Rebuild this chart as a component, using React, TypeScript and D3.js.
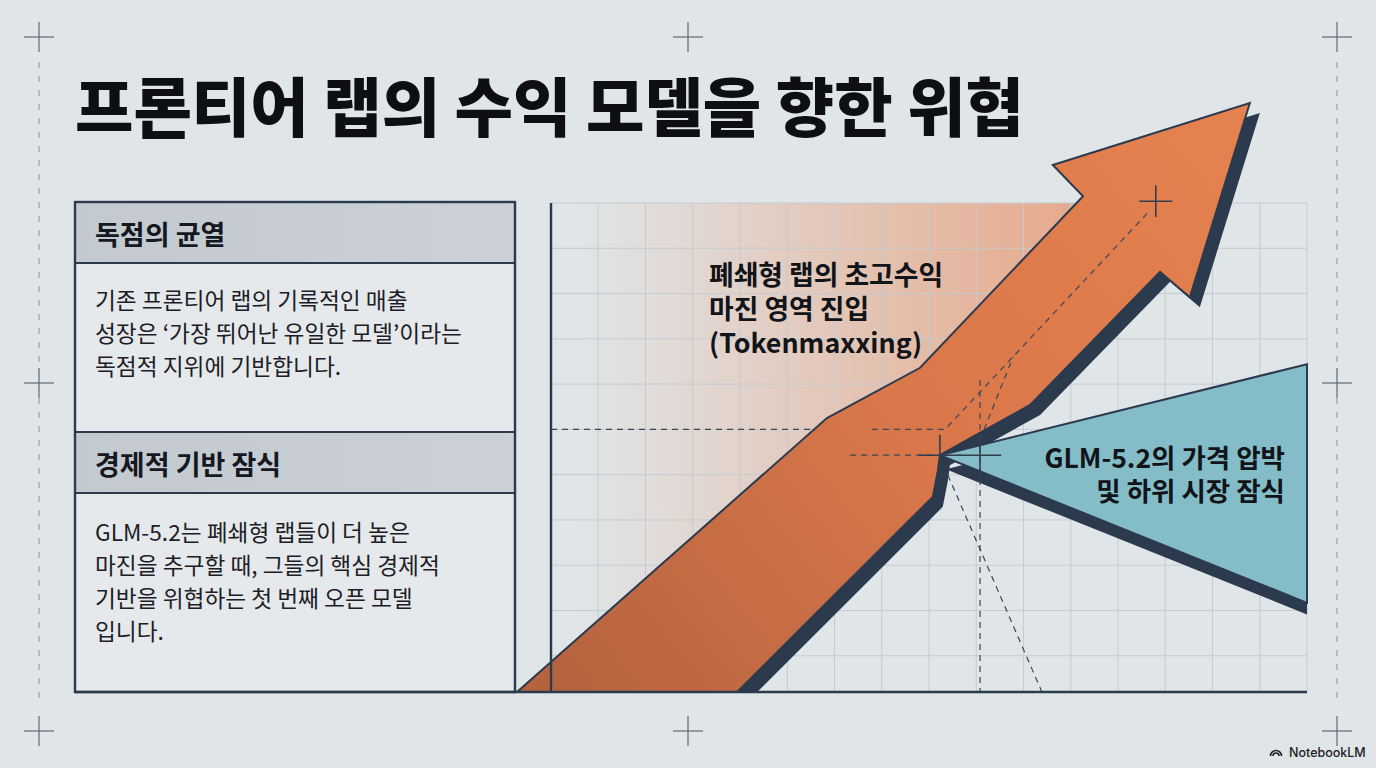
import { useEffect, useRef } from 'react';
import * as d3 from 'd3';

// ---- content ----
const titleText = '프론티어 랩의 수익 모델을 향한 위협';

const panelHeads = ['독점의 균열', '경제적 기반 잠식'];
const panel1Lines = [
  '기존 프론티어 랩의 기록적인 매출',
  '성장은 ‘가장 뛰어난 유일한 모델’이라는',
  '독점적 지위에 기반합니다.',
];
const panel2Lines = [
  'GLM-5.2는 폐쇄형 랩들이 더 높은',
  '마진을 추구할 때, 그들의 핵심 경제적',
  '기반을 위협하는 첫 번째 오픈 모델',
  '입니다.',
];
const arrowLabel = ['폐쇄형 랩의 초고수익', '마진 영역 진입', '(Tokenmaxxing)'];
const wedgeLabel = ['GLM-5.2의 가격 압박', '및 하위 시장 잠식'];

// ---- chart geometry in grid units (x: columns, y: rows above the base line) ----
const gridCols = d3.range(0, 17);
const gridRows = d3.range(0, 11).map(k => 0.8 + k);

// the big rising arrow (clockwise from the base)
const arrowPts: [number, number][] = [
  [-0.72, 0], [5.84, 6.05], [7.81, 7.16], [11.26, 10.95], [10.62, 11.64],
  [14.79, 13.01], [13.52, 8.72], [12.89, 9.28], [10.14, 6.34], [8.23, 5.23],
  [8.19, 4.9], [8.08, 4.31], [3.94, 0],
];
// teal wedge branching off the arrow
const wedgePts: [number, number][] = [[8.23, 5.23], [16, 7.24], [16, 1.97]];

// dashed guide lines
const guidesBack: [number, number][][] = [
  [[0, 5.8], [5.9, 5.8]],
];
const guidesFront: [number, number][][] = [
  [[6.79, 5.8], [8.34, 5.8], [12.68, 10.64]],
  [[6.33, 5.23], [8.23, 5.23]],
  [[9.08, 6.89], [9.08, 0]],
  [[9.08, 5.57], [9.78, 7.4]],
  [[8.4, 4.79], [10.39, 0]],
];
const crossPts: [number, number, number][] = [
  [8.23, 5.23, 0.45], [9.08, 5.23, 0.45], [12.8, 10.84, 0.35],
];

// page frame marks (pixels)
const pageCross: [number, number][] = [
  [39, 37], [688, 37], [1337, 37], [39, 383], [1337, 383], [39, 731], [688, 731], [1337, 731],
];

const FONT = '"Noto Sans CJK KR", "Noto Sans", sans-serif';
const NAVY = '#2c3a4e';

export default function App() {
  const ref = useRef<SVGSVGElement>(null);

  useEffect(() => {
    if (!ref.current) return;
    document.body.style.margin = '0';
    const W = 1376, H = 768;
    const svg = d3.select(ref.current);
    svg.selectAll('*').remove();
    svg.attr('width', W).attr('height', H).attr('viewBox', [0, 0, W, H]);

    const x = d3.scaleLinear().domain([0, 16]).range([551, 1307]);
    const y = d3.scaleLinear().domain([0, 10.8]).range([692, 203]);
    const line = d3.line<[number, number]>().x(d => x(d[0])).y(d => y(d[1]));

    const defs = svg.append('defs');
    const peach = defs.append('linearGradient').attr('id', 'peach')
      .attr('gradientUnits', 'userSpaceOnUse')
      .attr('x1', x(0.6)).attr('y1', 0).attr('x2', x(11.2)).attr('y2', 0);
    peach.append('stop').attr('offset', 0).attr('stop-color', '#e8956c').attr('stop-opacity', 0);
    peach.append('stop').attr('offset', 1).attr('stop-color', '#e8956c').attr('stop-opacity', 0.75);

    const orange = defs.append('linearGradient').attr('id', 'orange')
      .attr('gradientUnits', 'userSpaceOnUse')
      .attr('x1', x(-0.7)).attr('y1', y(0)).attr('x2', x(14.8)).attr('y2', y(13));
    orange.append('stop').attr('offset', 0).attr('stop-color', '#b2623e');
    orange.append('stop').attr('offset', 0.5).attr('stop-color', '#d9774a');
    orange.append('stop').attr('offset', 1).attr('stop-color', '#e6824f');

    const hdr = defs.append('linearGradient').attr('id', 'hdr');
    hdr.append('stop').attr('offset', 0).attr('stop-color', '#c2c9cf');
    hdr.append('stop').attr('offset', 1).attr('stop-color', '#cbd1d6');

    defs.append('clipPath').attr('id', 'clipBase')
      .append('rect').attr('x', 0).attr('y', 0).attr('width', W).attr('height', y(0));
    defs.append('clipPath').attr('id', 'clipPlot')
      .append('rect').attr('x', 0).attr('y', 0).attr('width', x(16)).attr('height', y(0));

    // page
    svg.append('rect').attr('width', W).attr('height', H).attr('fill', '#e0e5e7');

    // frame marks
    const marks = svg.append('g').attr('stroke', '#5f6a75').attr('stroke-width', 1.2);
    pageCross.forEach(([cx, cy]) => {
      marks.append('line').attr('x1', cx - 15).attr('x2', cx + 15).attr('y1', cy).attr('y2', cy);
      marks.append('line').attr('x1', cx).attr('x2', cx).attr('y1', cy - 15).attr('y2', cy + 15);
    });
    [39, 1337].forEach(px => {
      marks.append('line').attr('x1', px).attr('x2', px).attr('y1', 62).attr('y2', 706)
        .attr('stroke', '#8a939b').attr('stroke-width', 1).attr('stroke-dasharray', '6,8');
    });

    // title
    svg.append('text').attr('x', 75).attr('y', 131)
      .attr('font-family', FONT).attr('font-weight', 900).attr('font-size', 63.5)
      .attr('fill', '#0d0f12').text(titleText);

    // left panel
    const panel = svg.append('g');
    const sectY = [202, 432];
    panel.append('rect').attr('x', 75).attr('y', 202).attr('width', 440).attr('height', 490)
      .attr('fill', '#e5e9eb');
    sectY.forEach((sy, i) => {
      panel.append('rect').attr('x', 75).attr('y', sy).attr('width', 440).attr('height', 61)
        .attr('fill', 'url(#hdr)');
      panel.append('line').attr('x1', 75).attr('x2', 515).attr('y1', sy + 61).attr('y2', sy + 61)
        .attr('stroke', NAVY).attr('stroke-width', 2.2);
      panel.append('text').attr('x', 95).attr('y', sy + 43)
        .attr('font-family', FONT).attr('font-weight', 700).attr('font-size', 27)
        .attr('fill', '#15191f').text(panelHeads[i]);
    });
    panel.append('line').attr('x1', 75).attr('x2', 515).attr('y1', 432).attr('y2', 432)
      .attr('stroke', NAVY).attr('stroke-width', 2.2);
    panel.append('rect').attr('x', 75).attr('y', 202).attr('width', 440).attr('height', 490)
      .attr('fill', 'none').attr('stroke', NAVY).attr('stroke-width', 2.4);
    [[panel1Lines, 309], [panel2Lines, 541]].forEach(([lines, y0]) => {
      (lines as string[]).forEach((t, i) => {
        panel.append('text').attr('x', 95).attr('y', (y0 as number) + i * 33)
          .attr('font-family', FONT).attr('font-weight', 400).attr('font-size', 22.7)
          .attr('fill', '#1c2026').text(t);
      });
    });

    // peach zone left of the arrow (bounded by the arrow's left edge)
    const t0 = (0 - arrowPts[0][0]) / (arrowPts[1][0] - arrowPts[0][0]);
    const topT = (10.8 - arrowPts[2][1]) / (arrowPts[3][1] - arrowPts[2][1]);
    const zone: [number, number][] = [
      [0, 10.8],
      [arrowPts[2][0] + topT * (arrowPts[3][0] - arrowPts[2][0]), 10.8],
      arrowPts[2], arrowPts[1],
      [0, arrowPts[0][1] + t0 * (arrowPts[1][1] - arrowPts[0][1])],
    ];
    svg.append('path').attr('d', line(zone) + 'Z').attr('fill', 'url(#peach)');

    // grid
    const grid = svg.append('g').attr('stroke', '#c4cbd1').attr('stroke-width', 1);
    grid.selectAll('line.v').data(gridCols).join('line').attr('class', 'v')
      .attr('x1', d => x(d)).attr('x2', d => x(d)).attr('y1', y(10.8)).attr('y2', y(0));
    grid.selectAll('line.h').data(gridRows).join('line').attr('class', 'h')
      .attr('x1', x(0)).attr('x2', x(16)).attr('y1', d => y(d)).attr('y2', d => y(d));

    const dashed = (g: d3.Selection<SVGGElement, unknown, null, undefined>, data: [number, number][][]) =>
      g.selectAll('path').data(data).join('path').attr('d', d => line(d))
        .attr('fill', 'none').attr('stroke', '#3b4556').attr('stroke-width', 1.2)
        .attr('stroke-dasharray', '6,5');
    dashed(svg.append('g'), guidesBack);

    // arrow shadow, wedge, arrow
    svg.append('g').attr('clip-path', 'url(#clipBase)')
      .append('path').attr('d', line(arrowPts) + 'Z').attr('fill', NAVY)
      .attr('transform', 'translate(10,10)');
    svg.append('g').attr('clip-path', 'url(#clipPlot)')
      .append('path').attr('d', line(wedgePts) + 'Z').attr('fill', NAVY)
      .attr('transform', 'translate(6,14)');
    svg.append('path').attr('d', line(wedgePts) + 'Z').attr('fill', '#84bdc8')
      .attr('stroke', NAVY).attr('stroke-width', 2).attr('stroke-linejoin', 'miter');
    svg.append('g').attr('clip-path', 'url(#clipBase)')
      .append('path').attr('d', line(arrowPts) + 'Z').attr('fill', 'url(#orange)')
      .attr('stroke', NAVY).attr('stroke-width', 2).attr('stroke-linejoin', 'miter');

    dashed(svg.append('g'), guidesFront);

    const cross = svg.append('g').attr('stroke', '#333e4d').attr('stroke-width', 1.6);
    crossPts.forEach(([cx, cy, r]) => {
      cross.append('line').attr('x1', x(cx - r)).attr('x2', x(cx + r)).attr('y1', y(cy)).attr('y2', y(cy));
      cross.append('line').attr('x1', x(cx)).attr('x2', x(cx)).attr('y1', y(cy + r)).attr('y2', y(cy - r));
    });

    // axes
    svg.append('line').attr('x1', x(0)).attr('x2', x(0)).attr('y1', y(10.8)).attr('y2', y(0))
      .attr('stroke', NAVY).attr('stroke-width', 2.4);
    svg.append('line').attr('x1', 75).attr('x2', x(16)).attr('y1', y(0)).attr('y2', y(0))
      .attr('stroke', NAVY).attr('stroke-width', 2.4);

    // labels
    arrowLabel.forEach((t, i) => {
      svg.append('text').attr('x', 709).attr('y', 285 + i * 34)
        .attr('font-family', FONT).attr('font-weight', 700).attr('font-size', 26.8)
        .attr('fill', '#111418').text(t);
    });
    wedgeLabel.forEach((t, i) => {
      svg.append('text').attr('x', 1285).attr('y', 468 + i * 33).attr('text-anchor', 'end')
        .attr('font-family', FONT).attr('font-weight', 700).attr('font-size', 26.5)
        .attr('fill', '#111418').text(t);
    });

    // NotebookLM mark
    const logo = svg.append('g').attr('transform', 'translate(1276,756)')
      .attr('fill', 'none').attr('stroke', '#1c2026').attr('stroke-width', 1.6);
    [5.5, 3].forEach(r => {
      logo.append('path').attr('d', d3.arc()({ innerRadius: r, outerRadius: r, startAngle: -Math.PI / 2, endAngle: Math.PI / 2 }) as string);
    });
    svg.append('text').attr('x', 1289).attr('y', 757)
      .attr('font-family', 'Inter, Roboto, sans-serif').attr('font-weight', 500).attr('font-size', 12.5)
      .attr('fill', '#1c2026').text('NotebookLM');
  }, []);

  return <svg ref={ref} style={{ display: 'block' }}></svg>;
}
